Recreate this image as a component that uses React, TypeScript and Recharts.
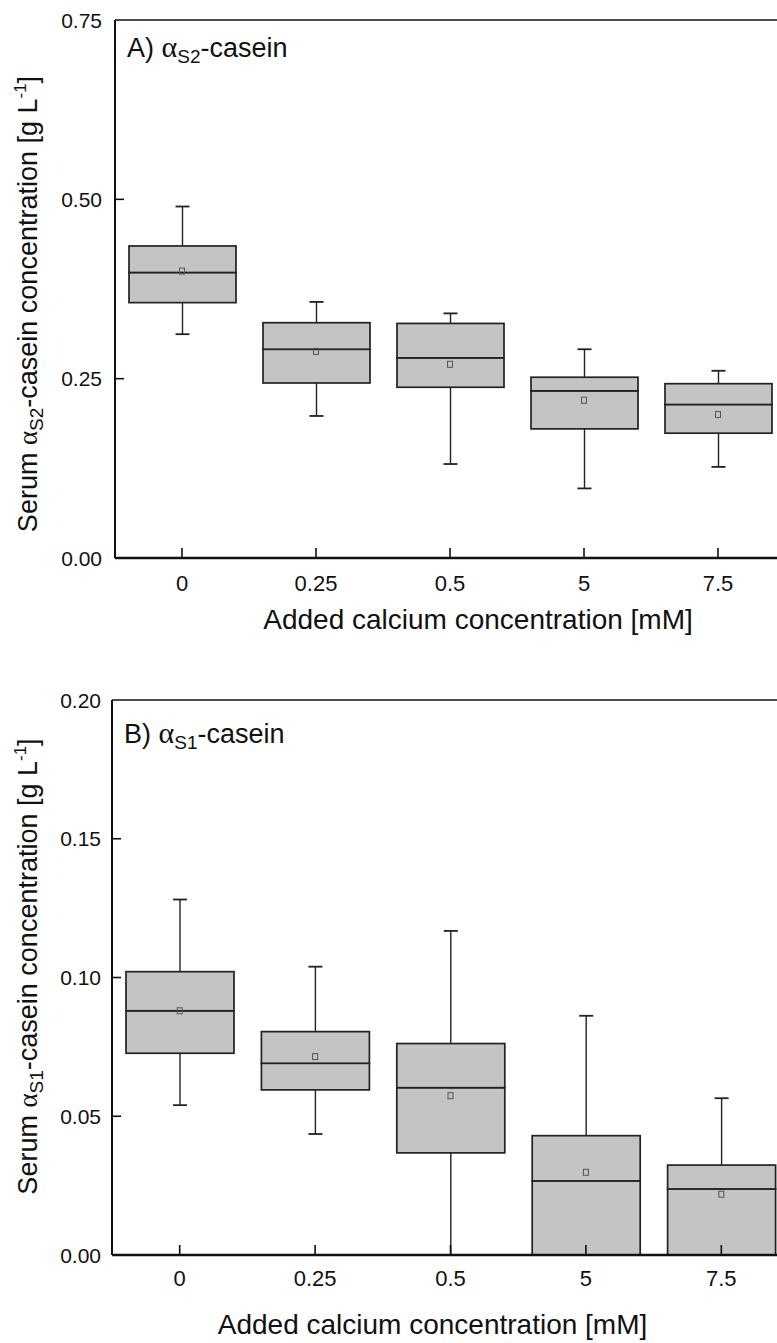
import { Bar, ComposedChart, Label, ReferenceLine, Scatter, XAxis, YAxis } from "recharts";

const doses = ["0", "0.25", "0.5", "5", "7.5"];

// A) alpha-s2 casein, g/L
const s2Min = [0.312, 0.198, 0.131, 0.097, 0.127];
const s2Q1 = [0.356, 0.244, 0.238, 0.18, 0.174];
const s2Median = [0.398, 0.291, 0.279, 0.233, 0.214];
const s2Q3 = [0.435, 0.328, 0.327, 0.252, 0.243];
const s2Max = [0.49, 0.357, 0.341, 0.291, 0.261];
const s2Mean = [0.4, 0.288, 0.27, 0.22, 0.2];
const s2Ticks = [0, 0.25, 0.5, 0.75];

// B) alpha-s1 casein, g/L
const s1Min = [0.054, 0.0436, 0, 0, 0];
const s1Q1 = [0.0727, 0.0595, 0.0368, 0, 0];
const s1Median = [0.088, 0.0691, 0.0603, 0.0267, 0.0238];
const s1Q3 = [0.1021, 0.0805, 0.0762, 0.043, 0.0324];
const s1Max = [0.1281, 0.1039, 0.1168, 0.0862, 0.0565];
const s1Mean = [0.088, 0.0715, 0.0574, 0.0298, 0.0219];
const s1Ticks = [0, 0.05, 0.1, 0.15, 0.2];

const FONT = "'Liberation Sans', Arial, sans-serif";
const SYMBOL = "'Liberation Serif', 'DejaVu Serif', serif";
const BOX_FILL = "#c4c4c4";
const EDGE = "#222";

function buildRows(mins: number[], q1: number[], med: number[], q3: number[], maxs: number[], means: number[]) {
  return doses.map((dose, i) => ({
    dose,
    base: mins[i],
    lowWhisker: q1[i] - mins[i],
    boxLow: med[i] - q1[i],
    boxHigh: q3[i] - med[i],
    highWhisker: maxs[i] - q3[i],
    mean: means[i],
  }));
}

const Empty = () => <g />;

const LowWhisker = (p: any) => {
  const cx = p.x + p.width / 2;
  const yb = p.y + p.height;
  return (
    <g stroke={EDGE} strokeWidth={1.4}>
      <line x1={cx} x2={cx} y1={p.y} y2={yb} />
      <line x1={cx - 7} x2={cx + 7} y1={yb} y2={yb} strokeWidth={1.8} />
    </g>
  );
};

const HighWhisker = (p: any) => {
  const cx = p.x + p.width / 2;
  return (
    <g stroke={EDGE} strokeWidth={1.4}>
      <line x1={cx} x2={cx} y1={p.y} y2={p.y + p.height} />
      <line x1={cx - 7} x2={cx + 7} y1={p.y} y2={p.y} strokeWidth={1.8} />
    </g>
  );
};

const BoxPart = (p: any) => (
  <rect x={p.x} y={p.y} width={p.width} height={Math.max(p.height, 0)} fill={BOX_FILL} stroke={EDGE} strokeWidth={1.7} />
);

const MeanMark = (p: any) => (
  <rect x={p.cx - 2.5} y={p.cy - 3} width={5} height={6} fill="none" stroke="#555" strokeWidth={1} />
);

type PanelProps = {
  top: number;
  rows: ReturnType<typeof buildRows>;
  yMax: number;
  ticks: number[];
  letter: string;
  sub: string;
  marginTop: number;
  height: number;
  xAxisHeight: number;
  yAxisWidth: number;
  rightMargin: number;
  barSize: number;
  yTickMargin: number;
  xTickMargin: number;
  xLabelDx: number;
  xLabelDy: number;
  yLabelX: number;
  yLabelDy: number;
  titleDy: number;
};

function Panel(c: PanelProps) {
  const xTick = (p: any) => {
    const axisY = p.y - c.xTickMargin;
    return (
      <g>
        <line x1={p.x} x2={p.x} y1={axisY} y2={axisY - 10} stroke="#111" strokeWidth={1.6} />
        <text x={p.x} y={p.y} dy="0.71em" textAnchor="middle" fontSize={22} fontFamily={FONT} fill="#111">
          {p.payload.value}
        </text>
      </g>
    );
  };
  const yTick = (p: any) => {
    const axisX = p.x + c.yTickMargin;
    return (
      <g>
        {p.payload.value > 0 && p.payload.value < c.yMax && (
          <line x1={axisX} x2={axisX + 9} y1={p.y} y2={p.y} stroke="#111" strokeWidth={1.6} />
        )}
        <text x={p.x} y={p.y} dy="0.36em" textAnchor="end" fontSize={21} fontFamily={FONT} fill="#111">
          {Number(p.payload.value).toFixed(2)}
        </text>
      </g>
    );
  };
  const xLabel = (p: any) => {
    const vb = p.viewBox;
    return (
      <text x={vb.x + vb.width / 2 + c.xLabelDx} y={vb.y + c.xLabelDy} textAnchor="middle" fontSize={28} fontFamily={FONT} fill="#111">
        Added calcium concentration [mM]
      </text>
    );
  };
  const yLabel = (p: any) => {
    const vb = p.viewBox;
    const cy = vb.y + vb.height / 2 + c.yLabelDy;
    return (
      <text transform={`translate(${c.yLabelX},${cy}) rotate(-90)`} textAnchor="middle" fontSize={27} fontFamily={FONT} fill="#111">
        Serum <tspan fontFamily={SYMBOL}>α</tspan>
        <tspan fontSize={19} dy={6}>{c.sub}</tspan>
        <tspan dy={-6}>-casein concentration [g L</tspan>
        <tspan fontSize={17} dy={-11}>-1</tspan>
        <tspan dy={11}>]</tspan>
      </text>
    );
  };
  const title = (p: any) => {
    const vb = p.viewBox;
    return (
      <text x={vb.x + 12} y={vb.y + c.titleDy} fontSize={27} fontFamily={FONT} fill="#111">
        {c.letter}) <tspan fontFamily={SYMBOL} fontSize={30}>α</tspan>
        <tspan fontSize={19} dy={6}>{c.sub}</tspan>
        <tspan dy={-6}>-casein</tspan>
      </text>
    );
  };

  return (
    <div style={{ position: "absolute", left: 0, top: c.top }}>
      <ComposedChart
        width={800}
        height={c.height}
        data={c.rows}
        margin={{ top: c.marginTop, right: c.rightMargin, bottom: 0, left: 0 }}
      >
        <XAxis
          dataKey="dose"
          interval={0}
          height={c.xAxisHeight}
          tickSize={0}
          tickMargin={c.xTickMargin}
          tickLine={false}
          tick={xTick}
          axisLine={{ stroke: "#111", strokeWidth: 2.5 }}
        >
          <Label content={xLabel} />
        </XAxis>
        <YAxis
          width={c.yAxisWidth}
          domain={[0, c.yMax]}
          ticks={c.ticks}
          interval={0}
          tickSize={0}
          tickMargin={c.yTickMargin}
          tickLine={false}
          tick={yTick}
          axisLine={{ stroke: "#111", strokeWidth: 2 }}
        >
          <Label content={yLabel} />
        </YAxis>
        <ReferenceLine y={c.yMax} stroke="#111" strokeWidth={1.5} label={{ content: title }} />
        <Bar dataKey="base" stackId="box" barSize={c.barSize} shape={Empty} isAnimationActive={false} />
        <Bar dataKey="lowWhisker" stackId="box" barSize={c.barSize} shape={LowWhisker} isAnimationActive={false} />
        <Bar dataKey="boxLow" stackId="box" barSize={c.barSize} shape={BoxPart} isAnimationActive={false} />
        <Bar dataKey="boxHigh" stackId="box" barSize={c.barSize} shape={BoxPart} isAnimationActive={false} />
        <Bar dataKey="highWhisker" stackId="box" barSize={c.barSize} shape={HighWhisker} isAnimationActive={false} />
        <Scatter dataKey="mean" shape={MeanMark} isAnimationActive={false} />
      </ComposedChart>
    </div>
  );
}

export default function App() {
  const rowsA = buildRows(s2Min, s2Q1, s2Median, s2Q3, s2Max, s2Mean);
  const rowsB = buildRows(s1Min, s1Q1, s1Median, s1Q3, s1Max, s1Mean);
  return (
    <div style={{ position: "absolute", left: 0, top: 0, width: 777, height: 1343, overflow: "hidden", background: "#fff" }}>
      <Panel
        top={0}
        rows={rowsA}
        yMax={0.75}
        ticks={s2Ticks}
        letter="A"
        sub="S2"
        marginTop={20}
        height={650}
        xAxisHeight={92}
        yAxisWidth={115}
        rightMargin={15}
        barSize={107}
        yTickMargin={13}
        xTickMargin={17}
        xLabelDx={28}
        xLabelDy={71}
        yLabelX={37}
        yLabelDy={15}
        titleDy={37}
      />
      <Panel
        top={650}
        rows={rowsB}
        yMax={0.2}
        ticks={s1Ticks}
        letter="B"
        sub="S1"
        marginTop={50}
        height={693}
        xAxisHeight={88}
        yAxisWidth={112}
        rightMargin={11}
        barSize={108}
        yTickMargin={11}
        xTickMargin={15}
        xLabelDx={-18}
        xLabelDy={79}
        yLabelX={37}
        yLabelDy={-11}
        titleDy={43}
      />
    </div>
  );
}
